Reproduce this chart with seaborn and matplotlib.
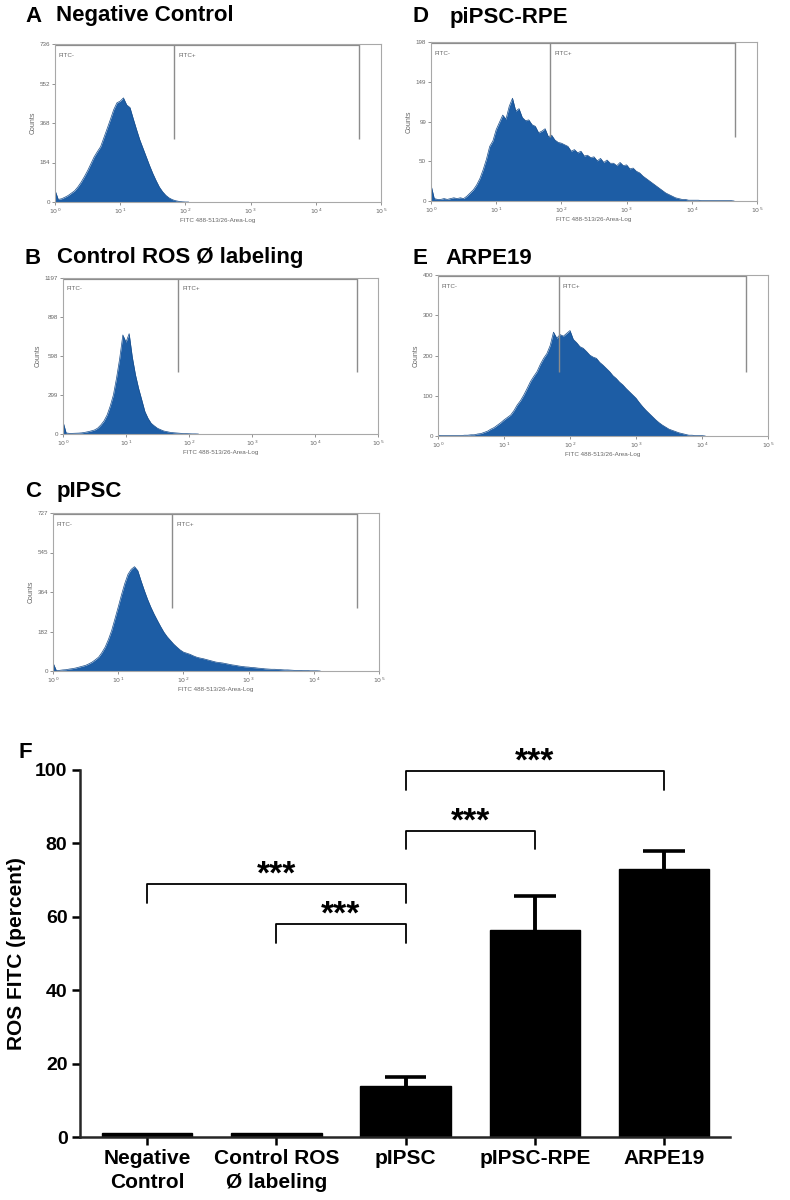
import numpy as np
import pandas as pd
import matplotlib
matplotlib.use("Agg")
import matplotlib.pyplot as plt
import seaborn as sns

# ---- flow cytometry histograms (counts every 0.05 decade, from 10^0) ----
STEP = 0.05
neg_counts = [55, 12, 15, 22, 30, 41, 52, 70, 92, 118,
              146, 178, 210, 235, 258, 300, 342, 385, 430, 462,
              470, 485, 452, 440, 388, 338, 290, 250, 210, 170,
              133, 100, 70, 48, 31, 19, 11, 6, 3, 1,
              0, 0]
ctrl_counts = [95, 8, 5, 5, 6, 7, 9, 13, 18, 24,
               31, 45, 69, 100, 146, 215, 300, 430, 580, 760,
               705, 770, 590, 455, 350, 262, 172, 120, 82, 62,
               44, 33, 23, 18, 13, 10, 8, 6, 4, 3,
               2, 1, 1, 0]
pipsc_counts = [38, 3, 3, 5, 6, 9, 11, 14, 18, 22,
                26, 33, 41, 52, 64, 85, 110, 145, 187, 240,
                294, 350, 402, 445, 468, 480, 462, 415, 371, 330,
                294, 262, 233, 205, 179, 158, 141, 124, 110, 97,
                87, 82, 77, 70, 64, 60, 57, 53, 49, 45,
                41, 39, 37, 34, 31, 28, 26, 23, 21, 19,
                18, 16, 15, 13, 12, 10, 9, 8, 8, 7,
                6, 5, 5, 4, 3, 3, 3, 2, 2, 1,
                1, 1, 0]
rpe_counts = [20, 3, 2, 2, 3, 2, 3, 4, 3, 4,
              3, 6, 10, 14, 20, 28, 39, 52, 68, 75,
              89, 98, 107, 102, 118, 128, 112, 115, 104, 100,
              101, 95, 93, 85, 87, 90, 80, 82, 76, 73,
              72, 70, 68, 62, 64, 60, 62, 56, 57, 54,
              55, 50, 53, 48, 51, 47, 47, 44, 48, 44,
              45, 40, 41, 37, 35, 31, 28, 25, 22, 19,
              16, 13, 10, 8, 6, 4, 3, 2, 2, 1,
              1, 1, 1, 0.5, 0.5, 0.5, 0.5, 0.5, 0.5, 0.5,
              0.5, 0.5, 0.5, 0]
arpe_counts = [2, 1, 1, 1, 1, 1, 1, 1, 2, 2,
               3, 3, 5, 6, 9, 12, 17, 21, 27, 33,
               40, 46, 52, 63, 77, 88, 102, 118, 135, 148,
               160, 178, 193, 205, 225, 258, 243, 252, 248, 255,
               262, 240, 232, 222, 218, 210, 201, 196, 193, 183,
               176, 168, 160, 150, 143, 134, 127, 118, 110, 102,
               94, 83, 73, 64, 56, 48, 40, 33, 27, 22,
               17, 14, 11, 8, 6, 4, 2, 2, 1, 1,
               1, 0]

neg_yticks = ["0", "184", "368", "552", "736"]
ctrl_yticks = ["0", "299", "598", "898", "1197"]
pipsc_yticks = ["0", "182", "364", "545", "727"]
rpe_yticks = ["0", "50", "99", "149", "198"]
arpe_yticks = ["0", "100", "200", "300", "400"]

GATE_LO = 1.83
GATE_HI = 4.66

# ---- panel F: bar chart ----
groups = ["Negative\nControl", "Control ROS\nØ labeling", "pIPSC", "pIPSC-RPE", "ARPE19"]
ros_mean = [1.1, 1.0, 13.9, 56.4, 73.0]
ros_sem = [0, 0, 2.5, 9.3, 4.9]
# (from, to, bracket height, leg end)
brackets = [(0, 2, 68.9, 63.8), (1, 2, 58.0, 52.9), (2, 3, 83.4, 78.5), (2, 4, 99.7, 94.5)]
bracket_labels = ["***", "***", "***", "***"]

sns.set_style("ticks")
plt.rcParams["font.family"] = ["Liberation Sans", "DejaVu Sans"]
plt.rcParams["text.color"] = "black"
plt.rcParams["axes.labelcolor"] = "black"

W, H = 790, 1200
HIST_FILL = "#1d5da5"
HIST_EDGE = "#174c8a"
GATE_COLOR = "#8c8c8c"
GREY_TXT = "#666666"

fig = plt.figure(figsize=(W / 100, H / 100), dpi=100)


def px_axes(left, top, right, bottom):
    return fig.add_axes([left / W, 1 - bottom / H, (right - left) / W, (bottom - top) / H])


def draw_hist(ax, counts, ylabels):
    y = np.asarray(counts, dtype=float)
    x = np.arange(len(y)) * STEP
    ymax = float(ylabels[-1])
    ax.fill_between(x, y, color=HIST_FILL, lw=0)
    sns.lineplot(x=x, y=y, ax=ax, color=HIST_EDGE, lw=0.5)
    ax.set_xlim(0, 5)
    ax.set_ylim(0, ymax)
    ax.set_xticks(range(6))
    ax.set_xticklabels([rf"$10^{k}$" for k in range(6)])
    ax.set_yticks(np.linspace(0, ymax, 5))
    ax.set_yticklabels(ylabels)
    ax.tick_params(labelsize=4.5, colors=GREY_TXT, length=2, width=0.5, pad=1.5)
    for s in ax.spines.values():
        s.set_color("#a8a8a8")
        s.set_linewidth(0.8)
    ax.plot([0, GATE_LO], [ymax * 0.993] * 2, color=GATE_COLOR, lw=1.6, solid_capstyle="butt")
    ax.plot([GATE_LO, GATE_HI], [ymax * 0.993] * 2, color=GATE_COLOR, lw=1.6, solid_capstyle="butt")
    ax.vlines([GATE_LO, GATE_HI], ymax * 0.4, ymax, color=GATE_COLOR, lw=1)
    ax.text(0.06, ymax * 0.92, "FITC-", fontsize=4.5, color=GREY_TXT)
    ax.text(GATE_LO + 0.06, ymax * 0.92, "FITC+", fontsize=4.5, color=GREY_TXT)
    ax.set_ylabel("Counts", fontsize=5, color=GREY_TXT, labelpad=2)
    ax.set_xlabel("FITC 488-513/26-Area-Log", fontsize=4.5, color=GREY_TXT, labelpad=1.5)


def panel_title(x_letter, x_text, y, letter, text):
    fig.text(x_letter / W, 1 - y / H, letter, fontsize=16, fontweight="bold", va="center")
    if text:
        fig.text(x_text / W, 1 - y / H, text, fontsize=16, fontweight="bold", va="center")


draw_hist(px_axes(55, 44, 381, 202), neg_counts, neg_yticks)
draw_hist(px_axes(63, 278, 378, 434), ctrl_counts, ctrl_yticks)
draw_hist(px_axes(53, 513, 379, 671), pipsc_counts, pipsc_yticks)
draw_hist(px_axes(431, 42, 757, 201), rpe_counts, rpe_yticks)
draw_hist(px_axes(438, 275, 768, 436), arpe_counts, arpe_yticks)

panel_title(25, 56, 16, "A", "Negative Control")
panel_title(25, 57, 258, "B", "Control ROS Ø labeling")
panel_title(25, 57, 492, "C", "pIPSC")
panel_title(412, 450, 17, "D", "piPSC-RPE")
panel_title(412, 445, 258, "E", "ARPE19")
panel_title(18, 0, 752, "F", "")

# ---- panel F ----
axF = px_axes(80, 770, 730, 1137)
df = pd.DataFrame({"group": groups, "ros": ros_mean})
sns.barplot(data=df, x="group", y="ros", color="black", saturation=1, width=0.70,
            edgecolor="black", ax=axF)
# one-sided (upper) error bars
for i, (m, e) in enumerate(zip(ros_mean, ros_sem)):
    if e > 0:
        axF.vlines(i, m, m + e, color="black", lw=2.8)
        axF.hlines(m + e, i - 0.16, i + 0.16, color="black", lw=2.6)

for (i, j, top, leg), lab in zip(brackets, bracket_labels):
    axF.plot([i, i, j, j], [leg, top, top, leg], color="black", lw=1.3, clip_on=False)
    axF.annotate(lab, xy=((i + j) / 2, top + 3.9), xytext=(0, -10), textcoords="offset points",
                 ha="center", va="baseline", fontsize=24, fontweight="bold", annotation_clip=False)

axF.set_xlim(-0.52, 4.51)
axF.set_ylim(0, 100)
axF.set_yticks(range(0, 101, 20))
axF.set_xlabel("")
axF.set_ylabel("ROS FITC (percent)", fontsize=15, fontweight="bold")
axF.yaxis.set_label_coords(-0.083, 0.5)
sns.despine(ax=axF)
for s in ("left", "bottom"):
    axF.spines[s].set_linewidth(1.8)
axF.tick_params(width=1.8, length=6, pad=3, colors="black")
for lbl in axF.get_yticklabels():
    lbl.set_fontsize(14)
    lbl.set_fontweight("bold")
for lbl in axF.get_xticklabels():
    lbl.set_fontsize(15)
    lbl.set_fontweight("bold")
    lbl.set_linespacing(1.3)

fig.savefig("out.png", dpi=100)
